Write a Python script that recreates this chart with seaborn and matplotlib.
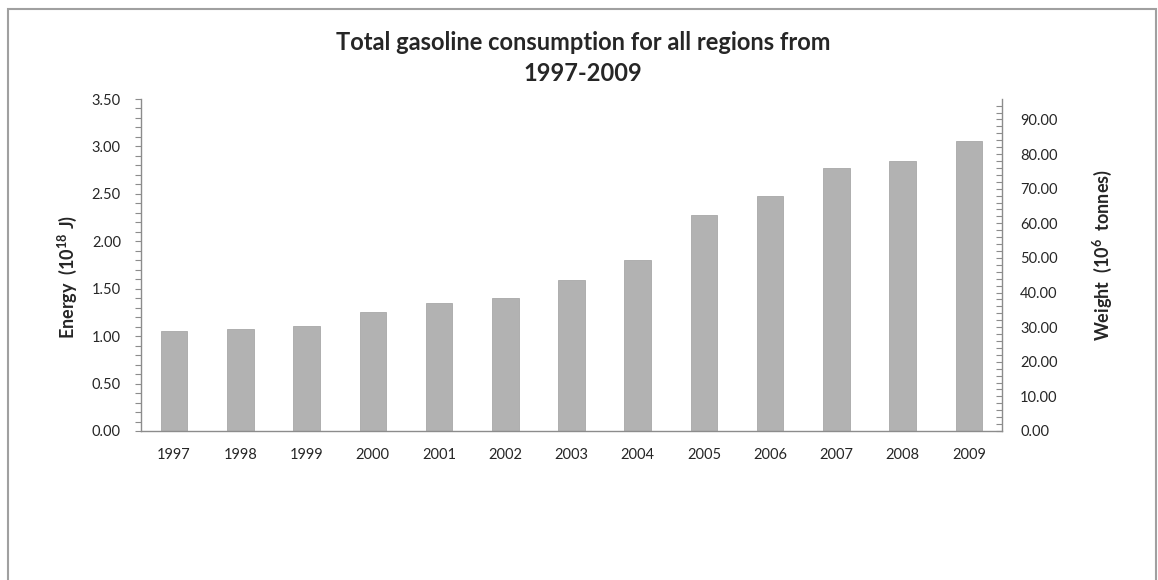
import pandas as pd
import numpy as np
import matplotlib.pyplot as plt
import matplotlib.ticker as mticker
from matplotlib.patches import Rectangle
import seaborn as sns

#### Data
years = ['1997', '1998', '1999', '2000', '2001', '2002', '2003',
         '2004', '2005', '2006', '2007', '2008', '2009']
energy = [1.05, 1.08, 1.11, 1.25, 1.35, 1.40, 1.59, 1.80, 2.28, 2.48, 2.77, 2.85, 3.06]
weight_ticks = [0, 10, 20, 30, 40, 50, 60, 70, 80, 90]
energy_ticks = [0, 0.5, 1.0, 1.5, 2.0, 2.5, 3.0, 3.5]

df = pd.DataFrame({'year': years, 'energy': energy})

sns.set_theme(style='white')
plt.rcParams['font.family'] = ['Lato', 'DejaVu Sans']
plt.rcParams['mathtext.fontset'] = 'custom'
plt.rcParams['mathtext.rm'] = 'Lato'
plt.rcParams['mathtext.bf'] = 'Lato:bold'

axis_grey = '#8c8c8c'

fig = plt.figure(figsize=(11.58, 5.8), dpi=100)
ax = fig.add_axes([141 / 1158, 1 - 431 / 580, (1002 - 141) / 1158, (431 - 99) / 580])

sns.barplot(data=df, x='year', y='energy', color='#b2b2b2', saturation=1,
            width=0.4, edgecolor='#a8a8a8', linewidth=0.6, ax=ax)
ax.set_xlim(-0.5, len(years) - 0.5)
ax.set_ylim(0, 3.5)
ax.set_yticks(energy_ticks)
ax.yaxis.set_major_formatter(mticker.FormatStrFormatter('%.2f'))
ax.yaxis.set_minor_locator(mticker.MultipleLocator(0.1))
ax.set_xlabel('')
ax.set_ylabel(r'Energy  (10$^{\mathbf{18}}$ J)', fontsize=13, fontweight='bold', labelpad=9)
ax.yaxis.label.set_y(0.464)

for s in ['top', 'right']:
    ax.spines[s].set_visible(False)
for s in ['left', 'bottom']:
    ax.spines[s].set_color(axis_grey)
    ax.spines[s].set_linewidth(1.0)
ax.tick_params(axis='y', which='both', direction='out', length=4, width=0.8,
               color=axis_grey, labelsize=10.5, pad=10.5, left=True)
ax.tick_params(axis='x', length=0, labelsize=10.5, pad=12)

#### Secondary axis (weight)
ax2 = ax.twinx()
ax2.set_ylim(0, 3.5 * 27.4)
ax2.set_yticks(weight_ticks)
ax2.yaxis.set_major_formatter(mticker.FormatStrFormatter('%.2f'))
ax2.yaxis.set_minor_locator(mticker.MultipleLocator(2))
for s in ['top', 'left', 'bottom']:
    ax2.spines[s].set_visible(False)
ax2.spines['right'].set_color(axis_grey)
ax2.spines['right'].set_linewidth(1.0)
ax2.tick_params(axis='y', which='both', direction='in', length=4, width=0.8,
                color=axis_grey, labelsize=10.5, pad=13, right=True)
ax2.set_ylabel(r'Weight  (10$^{\mathbf{6}}$  tonnes)', fontsize=13, fontweight='bold', labelpad=24)
ax2.yaxis.label.set_y(0.53)
ax2.grid(False)
ax.grid(False)

fig.text(583 / 1158, 1 - 58 / 580, 'Total gasoline consumption for all regions from\n1997-2009',
         ha='center', va='center', fontsize=17, fontweight='bold', linespacing=1.4)

#### Outer chart frame
fig.patches.append(Rectangle((8 / 1158, -0.1), (1156 - 8) / 1158, 1.1 - 9 / 580,
                             transform=fig.transFigure, fill=False,
                             edgecolor='#a0a0a0', linewidth=1.5))

plt.savefig('out.png', dpi=100)
